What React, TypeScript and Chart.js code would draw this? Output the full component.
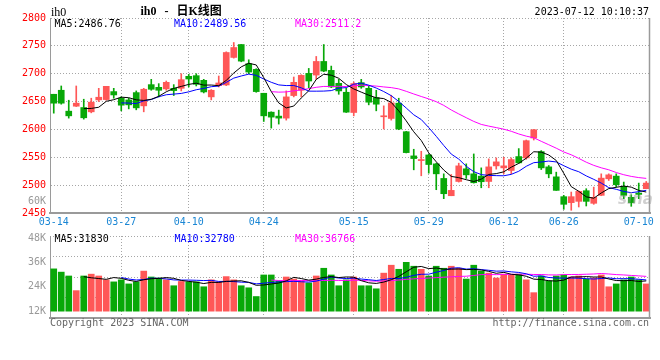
import React, { useEffect, useRef } from 'react';
import { Chart, registerables } from 'chart.js';

Chart.register(...registerables);

// ---------- data ----------
const dates = [
  '03-14', '03-15', '03-16', '03-17', '03-20', '03-21', '03-22', '03-23', '03-24', '03-27',
  '03-28', '03-29', '03-30', '03-31', '04-03', '04-04', '04-06', '04-07', '04-10', '04-11',
  '04-12', '04-13', '04-14', '04-17', '04-18', '04-19', '04-20', '04-21', '04-24', '04-25',
  '04-26', '04-27', '04-28', '05-04', '05-05', '05-08', '05-09', '05-10', '05-11', '05-12',
  '05-15', '05-16', '05-17', '05-18', '05-19', '05-22', '05-23', '05-24', '05-25', '05-26',
  '05-29', '05-30', '05-31', '06-01', '06-02', '06-05', '06-06', '06-07', '06-08', '06-09',
  '06-12', '06-13', '06-14', '06-15', '06-16', '06-19', '06-20', '06-21', '06-26', '06-27',
  '06-28', '06-29', '06-30', '07-03', '07-04', '07-05', '07-06', '07-07', '07-10', '07-11',
];

const tickDates = ['03-14', '03-27', '04-10', '04-24', '05-15', '05-29', '06-12', '06-26', '07-10'];

const opens = [
  2663.1, 2670.3, 2632.8, 2641.7, 2639.3, 2631.6, 2653.0, 2653.6, 2667.9, 2656.0,
  2653.0, 2666.1, 2642.3, 2680.4, 2675.6, 2672.7, 2673.8, 2673.8, 2695.3, 2696.5,
  2688.1, 2658.4, 2678.6, 2679.8, 2729.2, 2752.4, 2717.9, 2707.8, 2664.9, 2631.0,
  2623.9, 2620.3, 2660.8, 2670.3, 2700.6, 2697.6, 2722.0, 2706.0, 2682.8, 2666.7,
  2630.4, 2684.0, 2673.8, 2657.2, 2622.7, 2619.7, 2647.1, 2595.9, 2552.5, 2544.1,
  2554.2, 2538.2, 2512.0, 2481.0, 2506.6, 2529.3, 2520.3, 2516.2, 2506.6, 2534.6,
  2531.0, 2526.3, 2551.3, 2548.9, 2584.6, 2560.2, 2532.8, 2514.9, 2479.3, 2468.6,
  2470.9, 2490.0, 2467.4, 2481.7, 2511.4, 2516.2, 2497.7, 2478.1, 2485.8, 2493.6,
];

const closes = [
  2647.1, 2647.1, 2624.4, 2647.1, 2620.9, 2648.9, 2657.8, 2677.4, 2661.9, 2643.5,
  2644.1, 2638.7, 2672.1, 2672.1, 2670.3, 2684.5, 2669.7, 2689.3, 2690.5, 2681.0,
  2667.3, 2670.3, 2683.4, 2738.1, 2747.0, 2722.6, 2703.0, 2667.9, 2624.4, 2622.1,
  2620.3, 2658.4, 2684.5, 2697.0, 2686.9, 2722.0, 2704.8, 2676.2, 2669.1, 2631.0,
  2682.2, 2676.2, 2648.9, 2645.3, 2624.4, 2647.7, 2600.7, 2558.4, 2547.7, 2545.9,
  2537.0, 2520.3, 2484.6, 2490.6, 2534.6, 2518.5, 2504.3, 2506.1, 2532.8, 2541.8,
  2534.6, 2545.9, 2540.0, 2579.8, 2599.5, 2531.0, 2520.3, 2490.6, 2465.6, 2479.3,
  2488.8, 2470.9, 2478.1, 2512.6, 2518.5, 2500.7, 2481.7, 2468.6, 2483.4, 2503.7,
];

const highs = [
  2663.1, 2678.0, 2652.4, 2678.0, 2654.2, 2656.0, 2673.8, 2677.4, 2673.8, 2658.4,
  2656.0, 2669.1, 2673.8, 2689.9, 2682.2, 2686.9, 2680.4, 2700.0, 2698.8, 2700.0,
  2689.9, 2671.5, 2695.9, 2739.3, 2756.0, 2752.4, 2725.0, 2709.0, 2664.9, 2631.6,
  2634.6, 2669.1, 2694.1, 2698.2, 2709.5, 2731.0, 2752.4, 2713.7, 2689.9, 2673.8,
  2685.1, 2689.9, 2678.0, 2670.3, 2642.3, 2661.3, 2656.0, 2596.5, 2564.4, 2560.8,
  2555.4, 2539.4, 2520.3, 2519.1, 2539.4, 2538.2, 2556.0, 2531.0, 2547.1, 2548.9,
  2550.0, 2548.9, 2565.6, 2581.0, 2600.0, 2562.0, 2535.2, 2523.3, 2481.7, 2487.6,
  2489.4, 2493.6, 2496.5, 2520.3, 2520.3, 2520.3, 2505.5, 2482.8, 2503.7, 2506.6,
];

const lows = [
  2629.2, 2645.3, 2620.3, 2641.1, 2618.5, 2629.8, 2650.0, 2652.4, 2656.0, 2633.4,
  2636.9, 2635.2, 2631.6, 2670.3, 2658.4, 2670.3, 2660.8, 2669.1, 2676.2, 2678.0,
  2665.5, 2653.0, 2676.2, 2678.6, 2728.0, 2721.4, 2700.0, 2666.7, 2614.3, 2602.4,
  2609.6, 2616.7, 2658.4, 2658.4, 2675.0, 2689.9, 2703.6, 2675.0, 2663.1, 2630.4,
  2624.4, 2673.8, 2644.1, 2633.4, 2600.7, 2616.7, 2599.5, 2557.8, 2527.5, 2516.8,
  2521.5, 2491.8, 2475.7, 2481.0, 2505.5, 2512.0, 2503.7, 2495.3, 2495.3, 2528.7,
  2520.3, 2520.3, 2539.4, 2546.5, 2581.0, 2528.0, 2513.2, 2490.6, 2456.7, 2454.9,
  2460.8, 2462.6, 2465.6, 2481.0, 2508.4, 2496.5, 2475.7, 2462.0, 2475.7, 2493.6,
];

const volumes = [
  32800, 31200, 29300, 22100, 29300, 30200, 29300, 27400, 26400, 27400,
  25400, 26400, 31700, 28800, 28300, 27400, 24500, 26600, 26400, 26400,
  24000, 27400, 26400, 29000, 27400, 24500, 23500, 19200, 29800, 29800,
  26900, 28800, 27800, 26900, 25900, 29300, 33100, 29800, 24500, 27400,
  28800, 24500, 24500, 23000, 30700, 34600, 32600, 36000, 34100, 32600,
  29300, 34100, 33100, 34100, 33100, 27800, 34600, 31700, 30700, 28300,
  30200, 29800, 30200, 27400, 21100, 29300, 26900, 29300, 29800, 28800,
  29300, 27800, 28300, 29800, 24000, 25400, 27400, 28800, 27400, 25400,
];

const priceMin = 2450;
const priceMax = 2800;
const priceStep = 50;

const volumeTickValues = [12000, 24000, 36000, 48000];
const volumeTickLabels = ['12K', '24K', '36K', '48K'];
const volumeMin = 8640;
const volumeMax = 48960;
const volumeBase = 12000;

const priceLegend = ['MA5:2486.76', 'MA10:2489.56', 'MA30:2511.2'];
const volumeLegend = ['MA5:31830', 'MA10:32780', 'MA30:36766'];

// ---------- styles ----------
const UP = '#ff5757';
const DOWN = '#08a808';
const GRID = '#a6a6a6';
const FRAME = '#9a9a9a';
const MONO = "'DejaVu Sans Mono', monospace";
const MA_COLORS = ['#000000', '#0000ff', '#ff00ff'];

function movingAverage(values: number[], n: number): (number | null)[] {
  return values.map((_, i) => {
    if (i < n - 1) return null;
    let s = 0;
    for (let j = i - n + 1; j <= i; j++) s += values[j];
    return s / n;
  });
}

const candleColors = closes.map((c, i) => (c >= opens[i] ? UP : DOWN));
const labelIndex = tickDates.map((d) => dates.indexOf(d));

const rightFrame = {
  id: 'rightFrame',
  afterDraw(chart: any) {
    const { ctx, chartArea } = chart;
    ctx.save();
    ctx.strokeStyle = FRAME;
    ctx.lineWidth = 1.5;
    ctx.beginPath();
    ctx.moveTo(chartArea.right - 0.5, chartArea.top);
    ctx.lineTo(chartArea.right - 0.5, chartArea.bottom);
    ctx.stroke();
    ctx.restore();
  },
};

function xScale(showLabels: boolean, height: number) {
  return {
    type: 'category',
    offset: true,
    grid: {
      offset: false,
      drawTicks: false,
      color: (ctx: any) =>
        ctx.index === 0 || ctx.index === labelIndex.length - 1 ? 'rgba(0,0,0,0)' : GRID,
    },
    border: { color: FRAME, width: 2, dash: [1, 2] },
    ticks: {
      display: showLabels,
      autoSkip: false,
      maxRotation: 0,
      minRotation: 0,
      padding: 3,
      color: '#1a86d4',
      font: { family: MONO, size: 10 },
    },
    afterBuildTicks: (s: any) => {
      s.ticks = labelIndex.map((v) => ({ value: v }));
    },
    afterFit: (s: any) => {
      s.height = height;
    },
  };
}

function maLines(values: number[]) {
  return [5, 10, 30].map((n, k) => ({
    type: 'line',
    label: 'MA' + n,
    data: movingAverage(values, n),
    borderColor: MA_COLORS[k],
    borderWidth: 1,
    pointRadius: 0,
    tension: 0,
    fill: false,
    order: 0,
  }));
}

const textBase: React.CSSProperties = {
  position: 'absolute',
  whiteSpace: 'pre',
  fontFamily: MONO,
  fontSize: '10px',
  lineHeight: '12px',
};

export default function App() {
  const priceRef = useRef<HTMLCanvasElement>(null);
  const volRef = useRef<HTMLCanvasElement>(null);

  useEffect(() => {
    const priceChart = new Chart(priceRef.current as HTMLCanvasElement, {
      type: 'bar',
      data: {
        labels: dates,
        datasets: [
          ...maLines(closes),
          {
            type: 'bar',
            label: 'body',
            data: opens.map((o, i) => [o, closes[i]]),
            backgroundColor: candleColors,
            borderWidth: 0,
            barThickness: 6,
            minBarLength: 1,
            grouped: false,
            order: 1,
          },
          {
            type: 'bar',
            label: 'wick',
            data: lows.map((l, i) => [l, highs[i]]),
            backgroundColor: candleColors,
            borderWidth: 0,
            barThickness: 1,
            grouped: false,
            order: 2,
          },
        ] as any,
      },
      options: {
        responsive: false,
        animation: false,
        devicePixelRatio: 1,
        events: [],
        layout: { padding: { top: 18, right: 10, left: 0, bottom: 0 }, autoPadding: false },
        plugins: { legend: { display: false }, tooltip: { enabled: false } },
        scales: {
          x: xScale(true, 19) as any,
          y: {
            min: priceMin,
            max: priceMax,
            ticks: {
              stepSize: priceStep,
              padding: 4,
              color: '#ff0000',
              font: { family: MONO, size: 10 },
              callback: (v: any) => String(v),
            },
            grid: { color: GRID, drawTicks: false },
            border: { color: FRAME, width: 1, dash: [1, 2] },
            afterFit: (s: any) => {
              s.width = 50;
            },
          } as any,
        },
      },
      plugins: [rightFrame],
    });

    const volChart = new Chart(volRef.current as HTMLCanvasElement, {
      type: 'bar',
      data: {
        labels: dates,
        datasets: [
          ...maLines(volumes),
          {
            type: 'bar',
            label: 'volume',
            data: volumes,
            base: volumeBase,
            backgroundColor: candleColors,
            borderWidth: 0,
            barThickness: 6,
            order: 1,
          },
        ] as any,
      },
      options: {
        responsive: false,
        animation: false,
        devicePixelRatio: 1,
        events: [],
        layout: { padding: { top: 8, right: 10, left: 0, bottom: 42 }, autoPadding: false },
        plugins: { legend: { display: false }, tooltip: { enabled: false } },
        scales: {
          x: xScale(false, 0) as any,
          y: {
            position: 'left',
            min: volumeMin,
            max: volumeMax,
            afterBuildTicks: (s: any) => {
              s.ticks = volumeTickValues.map((v) => ({ value: v }));
            },
            ticks: {
              padding: 4,
              color: '#999999',
              font: { family: MONO, size: 10 },
              callback: (_v: any, i: number) => volumeTickLabels[i],
            },
            grid: { display: false, drawTicks: false },
            border: { color: FRAME, width: 1 },
            afterFit: (s: any) => {
              s.width = 50;
            },
          } as any,
          yg: {
            position: 'left',
            min: 0,
            max: 4,
            ticks: { display: false, stepSize: 1 },
            grid: { color: GRID, drawTicks: false },
            border: { display: false, dash: [1, 2] },
            afterFit: (s: any) => {
              s.width = 0;
            },
          } as any,
        },
      },
      plugins: [rightFrame],
    });

    return () => {
      priceChart.destroy();
      volChart.destroy();
    };
  }, []);

  return (
    <div
      style={{
        position: 'absolute',
        left: 0,
        top: 0,
        width: 660,
        height: 360,
        background: '#ffffff',
        overflow: 'hidden',
      }}
    >
      <canvas ref={priceRef} width={660} height={232} style={{ position: 'absolute', left: 0, top: 0 }} />
      <canvas ref={volRef} width={660} height={134} style={{ position: 'absolute', left: 0, top: 226 }} />

      <div
        style={{
          position: 'absolute',
          left: 51,
          top: 4.5,
          fontFamily: "'Liberation Serif', 'Noto Sans CJK SC', serif",
          fontSize: '12px',
          lineHeight: '14px',
          color: '#000',
          whiteSpace: 'pre',
        }}
      >
        ih0
      </div>
      <div
        style={{
          position: 'absolute',
          left: 140.5,
          top: 4,
          fontFamily: "'Liberation Serif', 'Noto Sans CJK SC', serif",
          fontWeight: 'bold',
          fontSize: '12px',
          lineHeight: '14px',
          wordSpacing: '5px',
          color: '#000',
          whiteSpace: 'pre',
        }}
      >
        ih0 - 日K线图
      </div>
      <div style={{ ...textBase, right: 11, top: 6, color: '#000' }}>2023-07-12 10:10:37</div>

      <div style={{ ...textBase, left: 54.5, top: 18.2, color: MA_COLORS[0] }}>{priceLegend[0]}</div>
      <div style={{ ...textBase, left: 174, top: 18.2, color: MA_COLORS[1] }}>{priceLegend[1]}</div>
      <div style={{ ...textBase, left: 295, top: 18.2, color: MA_COLORS[2] }}>{priceLegend[2]}</div>

      <div style={{ ...textBase, right: 614, top: 195, color: '#999999' }}>60K</div>

      <div style={{ ...textBase, left: 54.5, top: 232.5, color: MA_COLORS[0] }}>{volumeLegend[0]}</div>
      <div style={{ ...textBase, left: 174.5, top: 232.5, color: MA_COLORS[1] }}>{volumeLegend[1]}</div>
      <div style={{ ...textBase, left: 295, top: 232.5, color: MA_COLORS[2] }}>{volumeLegend[2]}</div>

      <div
        style={{
          position: 'absolute',
          left: 618,
          top: 190,
          fontFamily: "'DejaVu Sans', sans-serif",
          fontStyle: 'italic',
          fontWeight: 'bold',
          fontSize: '15px',
          lineHeight: '18px',
          color: 'rgba(150,150,150,0.45)',
        }}
      >
        sina
      </div>

      <div style={{ ...textBase, left: 50, top: 316.7, color: '#666666' }}>Copyright 2023 SINA.COM</div>
      <div style={{ ...textBase, right: 11, top: 317, color: '#666666' }}>http://finance.sina.com.cn</div>
    </div>
  );
}
